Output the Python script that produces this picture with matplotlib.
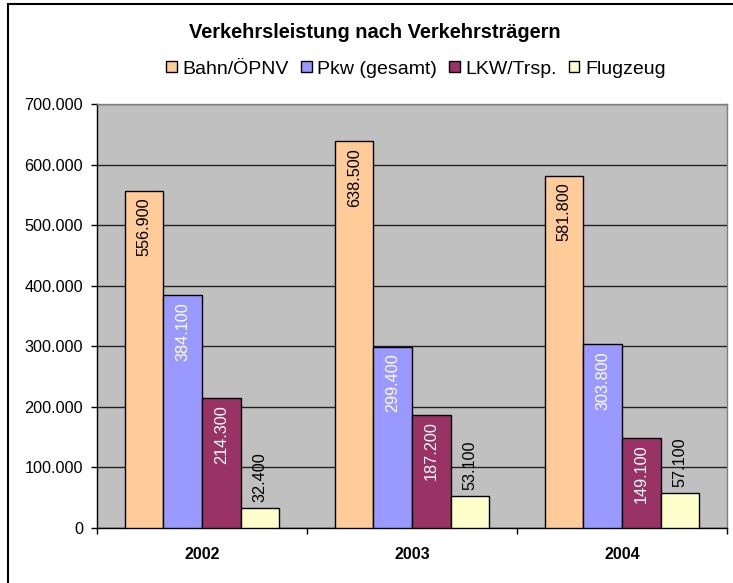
import matplotlib
matplotlib.use("Agg")
import matplotlib.pyplot as plt
from matplotlib.patches import Patch, Rectangle
import numpy as np

plt.rcParams['font.family'] = ['Liberation Sans', 'DejaVu Sans']

title = "Verkehrsleistung nach Verkehrsträgern"
years = ["2002", "2003", "2004"]
series_names = ["Bahn/ÖPNV", "Pkw (gesamt)", "LKW/Trsp.", "Flugzeug"]
bahn = [556900, 638500, 581800]
pkw = [384100, 299400, 303800]
lkw = [214300, 187200, 149100]
flug = [32400, 53100, 57100]
yticks = [0, 100000, 200000, 300000, 400000, 500000, 600000, 700000]

colors = ["#FFCC99", "#9999FF", "#993366", "#FFFFCC"]
label_colors = ["black", "white", "white", "black"]

def de(v):
    return f"{v:,.0f}".replace(",", ".")

W, H = 733, 583
fig = plt.figure(figsize=(W / 100, H / 100), dpi=100)
fig.patch.set_facecolor("white")

# outer chart border
fig.add_artist(Rectangle((8 / W, -0.05), 1.1, 1 - 3.5 / H + 0.05, transform=fig.transFigure,
                         fill=False, edgecolor="black", linewidth=1.5))

ax = fig.add_axes([97 / W, (H - 528) / H, 630 / W, 424 / H])
ax.set_facecolor("#C0C0C0")

x = np.arange(len(years))
bw = 0.1835
data = [bahn, pkw, lkw, flug]
for i, (vals, c, lc) in enumerate(zip(data, colors, label_colors)):
    pos = x + (i - 1.5) * bw
    ax.bar(pos, vals, width=bw, color=c, edgecolor="black", linewidth=1.0, zorder=3)
    for px, v in zip(pos, vals):
        if i < 3:
            ax.annotate(de(v), (px, v), xytext=(0, -5), textcoords="offset points",
                        rotation=90, ha="center", va="top", fontsize=11.7, color=lc, zorder=4)
        else:
            ax.annotate(de(v), (px, v), xytext=(0, 4.5), textcoords="offset points",
                        rotation=90, ha="center", va="bottom", fontsize=11.7, color=lc, zorder=4)

ax.set_xlim(-0.5, len(years) - 0.5)
ax.set_ylim(0, 700000)
ax.set_yticks(yticks)
ax.set_yticklabels([de(v) for v in yticks], fontsize=11.7)
ax.yaxis.grid(True, color="#222222", linewidth=1.0, zorder=1)
ax.set_axisbelow(True)

ax.set_xticks(x)
ax.set_xticklabels(years, fontsize=11.5, fontweight="bold")
ax.tick_params(axis="x", length=0, pad=14)
ax.set_xticks(np.arange(len(years) + 1) - 0.5, minor=True)
ax.tick_params(axis="x", which="minor", length=4, width=1, direction="out", color="black")
ax.tick_params(axis="y", length=4, width=1, direction="out", pad=6)

for s in ["top", "right"]:
    ax.spines[s].set_color("#808080")
    ax.spines[s].set_linewidth(1.0)
for s in ["left", "bottom"]:
    ax.spines[s].set_color("black")
    ax.spines[s].set_linewidth(1.0)

fig.text(375 / W, 1 - 32 / H, title, ha="center", va="center", fontsize=14.4, fontweight="bold")

handles = [Patch(facecolor=c, edgecolor="black", linewidth=1.0) for c in colors]
fig.legend(handles, series_names, ncol=4, loc="center", bbox_to_anchor=(416 / W, 1 - 69 / H),
           frameon=False, fontsize=14, handlelength=0.55, handleheight=0.55,
           handletextpad=0.3, columnspacing=0.6, borderpad=0)

fig.savefig("out.png", dpi=100)
